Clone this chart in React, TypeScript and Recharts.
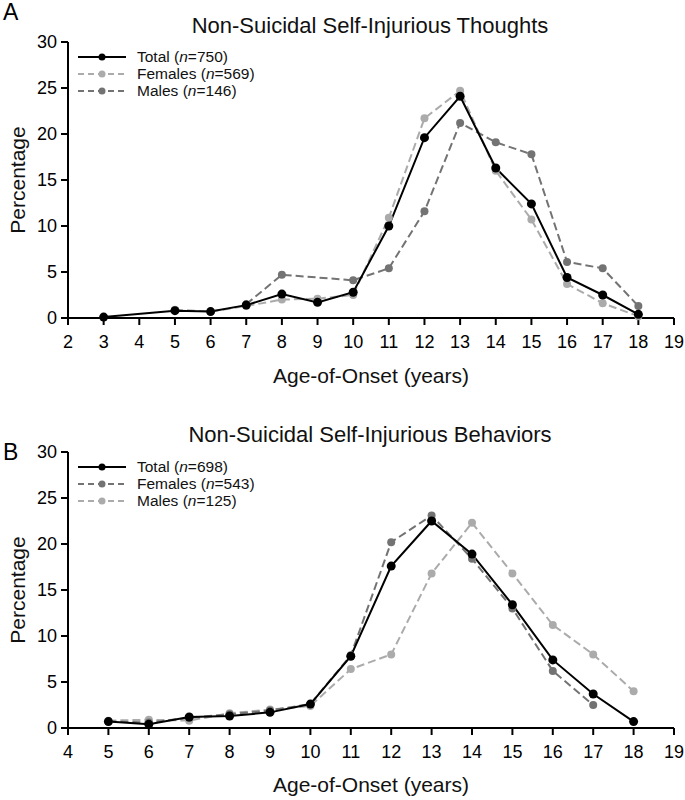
import React from 'react'
import { LineChart, Line, XAxis, YAxis, Label } from 'recharts'

const FONT = '"Liberation Sans", Arial, Helvetica, sans-serif'

// Panel A - thoughts
const agesA = [3, 5, 6, 7, 8, 9, 10, 11, 12, 13, 14, 15, 16, 17, 18]
const totalA = [0.1, 0.8, 0.7, 1.4, 2.6, 1.7, 2.8, 10.0, 19.6, 24.1, 16.3, 12.4, 4.4, 2.5, 0.4]
const femalesA = [null, 0.9, 0.7, 1.3, 2.0, 2.1, 2.5, 10.9, 21.7, 24.7, 16.0, 10.7, 3.7, 1.6, 0.2]
const malesA = [null, null, null, 1.5, 4.7, null, 4.1, 5.4, 11.6, 21.2, 19.1, 17.8, 6.1, 5.4, 1.3]
const ticksA = [2, 3, 4, 5, 6, 7, 8, 9, 10, 11, 12, 13, 14, 15, 16, 17, 18, 19]

// Panel B - behaviors
const agesB = [5, 6, 7, 8, 9, 10, 11, 12, 13, 14, 15, 16, 17, 18]
const totalB = [0.7, 0.4, 1.2, 1.3, 1.7, 2.6, 7.8, 17.6, 22.5, 18.9, 13.4, 7.4, 3.7, 0.7]
const femalesB = [0.7, 0.6, 1.1, 1.5, 1.9, 2.6, 7.9, 20.2, 23.1, 18.4, 13.0, 6.2, 2.5, null]
const malesB = [0.8, 0.9, 0.8, 1.6, 2.0, 2.4, 6.4, 8.0, 16.8, 22.3, 16.8, 11.2, 8.0, 4.0]
const ticksB = [4, 5, 6, 7, 8, 9, 10, 11, 12, 13, 14, 15, 16, 17, 18, 19]

const yTicks = [0, 5, 10, 15, 20, 25, 30]

const LIGHT = '#ababab'
const DARK = '#737373'

type Series = { key: string; name: string; n: number; color: string; dashed: boolean; r: number }

const seriesA: Series[] = [
  { key: 'females', name: 'Females', n: 569, color: LIGHT, dashed: true, r: 4 },
  { key: 'males', name: 'Males', n: 146, color: DARK, dashed: true, r: 4 },
  { key: 'total', name: 'Total', n: 750, color: '#000', dashed: false, r: 4.5 },
]
const seriesB: Series[] = [
  { key: 'males', name: 'Males', n: 125, color: LIGHT, dashed: true, r: 4 },
  { key: 'females', name: 'Females', n: 543, color: DARK, dashed: true, r: 4 },
  { key: 'total', name: 'Total', n: 698, color: '#000', dashed: false, r: 4.5 },
]

const buildRows = (ages: number[], total: any[], females: any[], males: any[]) =>
  ages.map((age, i) => ({ age, total: total[i], females: females[i], males: males[i] }))

const dataA = buildRows(agesA, totalA, femalesA, malesA)
const dataB = buildRows(agesB, totalB, femalesB, malesB)

function LegendBox({ series, top }: { series: Series[]; top: number }) {
  // legend order: Total, Females, Males
  const order = ['total', 'females', 'males']
  const rows = order.map((k) => series.find((s) => s.key === k)!)
  return (
    <div style={{ position: 'absolute', left: 78, top, fontFamily: FONT, fontSize: 15.5 }}>
      {rows.map((s) => (
        <div key={s.key} style={{ display: 'flex', alignItems: 'center', height: 17 }}>
          <svg width={50} height={12} style={{ marginRight: 9 }}>
            <line
              x1={0}
              x2={48}
              y1={6}
              y2={6}
              stroke={s.color}
              strokeWidth={2}
              strokeDasharray={s.dashed ? '6 4' : undefined}
            />
            <circle cx={24} cy={6} r={3.5} fill={s.color} />
          </svg>
          <span style={{ color: '#111', lineHeight: '17px' }}>
            {s.name} (<i>n</i>={s.n})
          </span>
        </div>
      ))}
    </div>
  )
}

interface PanelProps {
  letter: string
  title: string
  data: any[]
  ticks: number[]
  series: Series[]
  marginTop: number
  marginBottom: number
  xHeight: number
  titleTop: number
  letterTop: number
  legendTop: number
}

function Panel(p: PanelProps) {
  const plotTop = p.marginTop
  const plotBottom = 400 - p.marginBottom - p.xHeight
  const axisStyle = { fill: '#000', fontSize: 18, fontFamily: FONT }
  return (
    <div style={{ position: 'relative', width: 685, height: 400 }}>
      <div style={{ position: 'absolute', left: 3, top: p.letterTop, fontFamily: FONT, fontSize: 23, lineHeight: 1 }}>
        {p.letter}
      </div>
      <div
        style={{
          position: 'absolute',
          left: 370,
          top: p.titleTop,
          transform: 'translateX(-50%)',
          whiteSpace: 'nowrap',
          fontFamily: FONT,
          fontSize: 22,
          lineHeight: 1,
          color: '#111',
        }}
      >
        {p.title}
      </div>
      <div
        style={{
          position: 'absolute',
          left: 17,
          top: (plotTop + plotBottom) / 2,
          transform: 'translate(-50%, -50%) rotate(-90deg)',
          whiteSpace: 'nowrap',
          fontFamily: FONT,
          fontSize: 21,
          lineHeight: 1,
          color: '#111',
        }}
      >
        Percentage
      </div>
      <LineChart
        width={685}
        height={400}
        data={p.data}
        margin={{ top: p.marginTop, right: 11, bottom: p.marginBottom, left: 0 }}
      >
        <XAxis
          dataKey="age"
          type="number"
          domain={[p.ticks[0], p.ticks[p.ticks.length - 1]]}
          ticks={p.ticks}
          interval={0}
          height={p.xHeight}
          tickSize={7}
          tickMargin={10}
          tick={axisStyle}
          axisLine={{ stroke: '#000', strokeWidth: 2 }}
          tickLine={{ stroke: '#000', strokeWidth: 2 }}
        >
          <Label
            value="Age-of-Onset (years)"
            position="insideBottom"
            offset={0}
            style={{ fill: '#111', fontSize: 21, fontFamily: FONT }}
          />
        </XAxis>
        <YAxis
          type="number"
          domain={[0, 30]}
          ticks={yTicks}
          interval={0}
          width={68}
          tickSize={7}
          tickMargin={4}
          tick={axisStyle}
          axisLine={{ stroke: '#000', strokeWidth: 2 }}
          tickLine={{ stroke: '#000', strokeWidth: 2 }}
        />
        {p.series.map((s) => (
          <Line
            key={s.key}
            type="linear"
            dataKey={s.key}
            name={s.name}
            stroke={s.color}
            strokeWidth={2}
            strokeDasharray={s.dashed ? '8 4' : undefined}
            dot={{ r: s.r, fill: s.color, stroke: s.color, strokeWidth: 0 }}
            activeDot={false}
            connectNulls
            isAnimationActive={false}
          />
        ))}
      </LineChart>
      <LegendBox series={p.series} top={p.legendTop} />
    </div>
  )
}

export default function App() {
  return (
    <div style={{ position: 'absolute', left: 0, top: 0, width: 685, height: 800, background: '#fff' }}>
      <Panel
        letter="A"
        title="Non-Suicidal Self-Injurious Thoughts"
        data={dataA}
        ticks={ticksA}
        series={seriesA}
        marginTop={42}
        marginBottom={17}
        xHeight={65}
        titleTop={15}
        letterTop={1}
        legendTop={48}
      />
      <Panel
        letter="B"
        title="Non-Suicidal Self-Injurious Behaviors"
        data={dataB}
        ticks={ticksB}
        series={seriesB}
        marginTop={52}
        marginBottom={8}
        xHeight={64}
        titleTop={24}
        letterTop={41}
        legendTop={58}
      />
    </div>
  )
}
